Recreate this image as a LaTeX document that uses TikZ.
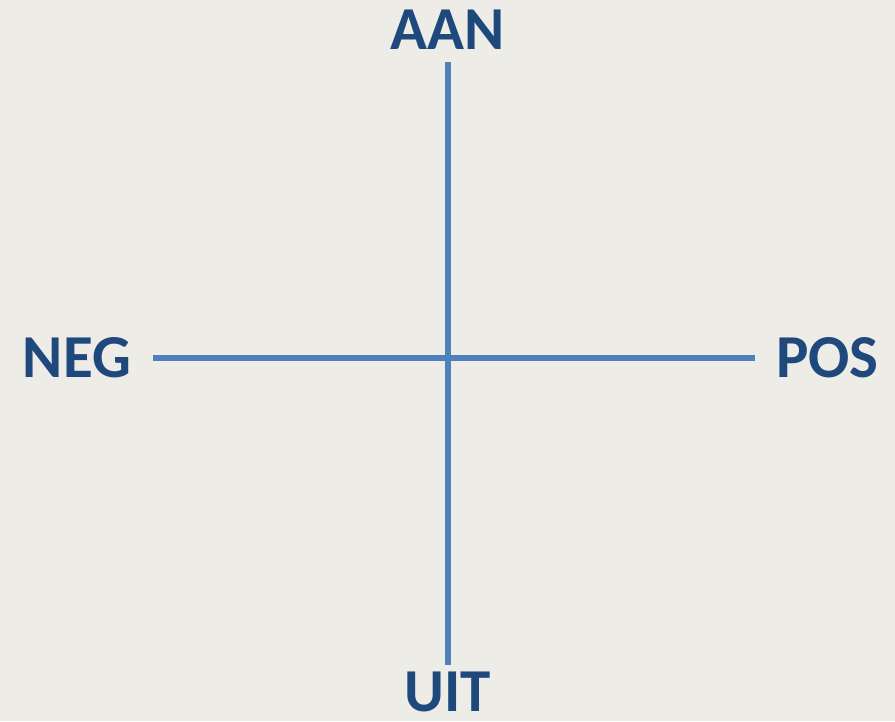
\documentclass[tikz,border=0pt]{standalone}
\usepackage{fontspec}
\setmainfont{Carlito}
\usepackage{tikz}
\usetikzlibrary{positioning,calc}
\usepackage{xcolor}
\definecolor{paperbg}{RGB}{238,236,231}
\definecolor{axisblue}{RGB}{79,129,189}
\definecolor{labelblue}{RGB}{31,73,125}
\tikzset{
    axis/.style={line width=6pt, axisblue},
    axislabel/.style={font=\fontsize{61}{61}\selectfont\bfseries, text=labelblue, inner sep=0pt},
}

\begin{document}
\begin{tikzpicture}[x=1pt, y=-1pt]
    % Background
    \fill[paperbg] (0,0) rectangle (895,721);
    \useasboundingbox (0,0) rectangle (895,721);

    % Axis labels
    \node[axislabel, anchor=south, inner ysep=12pt] (aan) at (448, 62) {AAN};
    \node[axislabel, anchor=north, inner ysep=7pt] (uit) at (448, 665) {UIT};
    \node[axislabel, anchor=east, inner xsep=22pt] (neg) at (153, 358) {NEG};
    \node[axislabel, anchor=west, inner xsep=21pt] (pos) at (755, 358) {POS};

    % Axes
    \draw[axis] (aan.south) -- (uit.north);
    \draw[axis] (neg.east) -- (pos.west);
\end{tikzpicture}
\end{document}
